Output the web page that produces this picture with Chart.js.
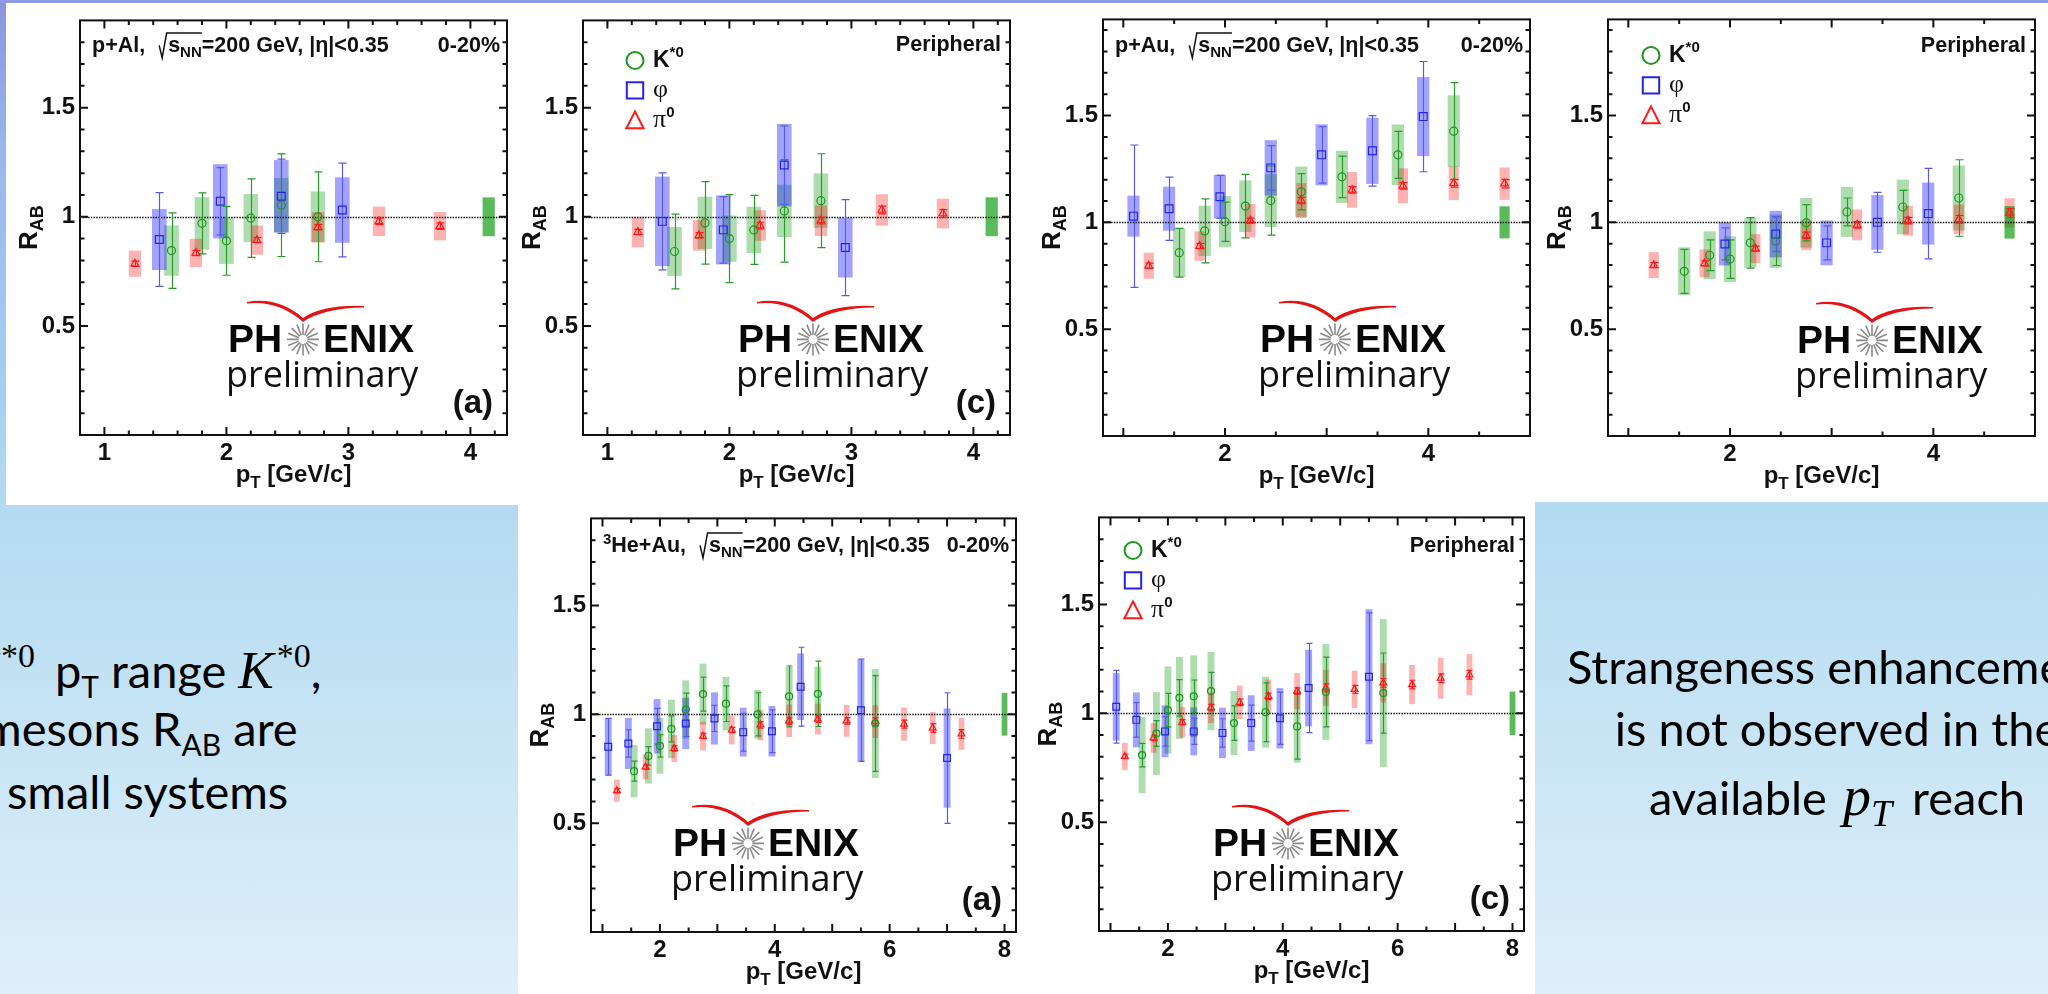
<!DOCTYPE html>
<html>
<head>
<meta charset="utf-8">
<script src="https://cdn.jsdelivr.net/npm/chart.js@4.4.0/dist/chart.umd.min.js"></script>
<style>
  html, body { margin: 0; padding: 0; }
  body {
    position: relative; width: 2048px; height: 994px; overflow: hidden;
    background: linear-gradient(180deg, #8a95dd 0px, #98b8ea 150px, #a6d0f1 400px, #b3dbf1 505px, #dfeff9 994px);
  }
  .band { position: absolute; left: 0; top: 0; width: 2048px; height: 3px; background: #8d9be0; }
  .sheet { position: absolute; background: #fff; }
  canvas { position: absolute; }
  .note { position: absolute; font: 47px Lato, sans-serif; line-height: 1; white-space: nowrap; color: #000; }
  .note.c { width: 1000px; text-align: center; }
  .mi { font-family: "Liberation Serif", serif; font-style: italic; font-size: 53px; }
  .ms { font-family: "Liberation Serif", serif; font-size: 34px; position: relative; top: -21px; margin-left: 3px; }
  .sb { font-size: 30px; position: relative; top: 10px; }
  .mp { font-family: "Liberation Serif", serif; font-style: italic; font-size: 56px; margin-left: 4px; }
  .mt { font-family: "Liberation Serif", serif; font-style: italic; font-size: 38px; position: relative; top: 11px; margin-right: 8px; }
</style>
</head>
<body>
<div class="band"></div>
<div class="sheet" style="left:6px;top:3px;width:512px;height:502px"></div>
<div class="sheet" style="left:518px;top:3px;width:1017px;height:991px"></div>
<div class="sheet" style="left:1532px;top:3px;width:516px;height:499px"></div>

<canvas id="pal-c"></canvas>
<canvas id="pal-p"></canvas>
<canvas id="pau-c"></canvas>
<canvas id="pau-p"></canvas>
<canvas id="he-c"></canvas>
<canvas id="he-p"></canvas>

<div class="note" style="right:2013px;top:644px"><span class="mi">K</span><span class="ms">*0</span></div>
<div class="note" style="left:55px;top:644px">p<span class="sb">T</span> range <span class="mi">K</span><span class="ms">*0</span>,</div>
<div class="note" style="left:-17px;top:705px">mesons R<span class="sb">AB</span> are</div>
<div class="note" style="left:7px;top:768px">small systems</div>

<div class="note c" style="left:1337px;top:643px">Strangeness enhancement</div>
<div class="note c" style="left:1337px;top:705px">is not observed in the</div>
<div class="note c" style="left:1337px;top:768px">available <span class="mp">p</span><span class="mt">T</span> reach</div>

<script>
// rows: [pT (GeV/c), R_AB, stat. error, syst. error]
const pAl_0020_K   = [[1.55,0.845,0.173,0.115],[1.80,0.970,0.140,0.120],[2.00,0.890,0.158,0.106],[2.20,0.994,0.180,0.110],[2.45,1.053,0.235,0.125],[2.75,1.000,0.206,0.116]];
const pAl_0020_phi = [[1.45,0.896,0.215,0.140],[1.95,1.071,0.154,0.170],[2.45,1.094,0.170,0.166],[2.95,1.031,0.215,0.150]];
const pAl_0020_pi  = [[1.25,0.785,0.012,0.060],[1.75,0.834,0.012,0.065],[2.25,0.893,0.012,0.067],[2.75,0.952,0.012,0.070],[3.25,0.979,0.015,0.068],[3.75,0.957,0.015,0.065]];

const pAl_periph_K   = [[1.55,0.841,0.171,0.112],[1.80,0.972,0.189,0.120],[2.00,0.900,0.202,0.106],[2.20,0.940,0.158,0.106],[2.45,1.027,0.235,0.120],[2.75,1.074,0.215,0.125]];
const pAl_periph_phi = [[1.45,0.979,0.222,0.205],[1.95,0.940,0.152,0.158],[2.45,1.237,0.180,0.189],[2.95,0.859,0.220,0.137]];
const pAl_periph_pi  = [[1.25,0.930,0.012,0.070],[1.75,0.915,0.012,0.070],[2.25,0.960,0.015,0.070],[2.75,0.982,0.015,0.070],[3.25,1.031,0.018,0.072],[3.75,1.015,0.018,0.068]];

const pAu_0020_K   = [[1.55,0.858,0.114,0.114],[1.80,0.960,0.150,0.118],[2.00,1.003,0.092,0.120],[2.20,1.076,0.149,0.121],[2.45,1.102,0.162,0.124],[2.75,1.143,0.085,0.118],[3.15,1.213,0.097,0.122],[3.70,1.316,0.110,0.142],[4.25,1.427,0.227,0.168]];
const pAu_0020_phi = [[1.10,1.029,0.333,0.096],[1.45,1.064,0.148,0.103],[1.95,1.120,0.100,0.103],[2.45,1.255,0.104,0.130],[2.95,1.316,0.132,0.143],[3.45,1.335,0.165,0.155],[3.95,1.495,0.258,0.185]];
const pAu_0020_pi  = [[1.25,0.797,0.012,0.061],[1.75,0.889,0.012,0.069],[2.25,1.008,0.012,0.078],[2.75,1.102,0.015,0.082],[3.25,1.152,0.015,0.084],[3.75,1.171,0.015,0.082],[4.25,1.183,0.018,0.079],[4.75,1.181,0.020,0.076]];

const pAu_periph_K   = [[1.55,0.771,0.103,0.112],[1.80,0.846,0.072,0.112],[2.00,0.828,0.090,0.107],[2.20,0.904,0.118,0.116],[2.45,0.912,0.114,0.125],[2.75,0.998,0.085,0.116],[3.15,1.049,0.065,0.117],[3.70,1.072,0.078,0.128],[4.25,1.114,0.179,0.152]];
const pAu_periph_phi = [[1.95,0.899,0.075,0.101],[2.45,0.945,0.082,0.109],[2.95,0.904,0.080,0.105],[3.45,1.000,0.140,0.128],[3.95,1.041,0.212,0.145]];
const pAu_periph_pi  = [[1.25,0.800,0.012,0.061],[1.75,0.808,0.012,0.065],[2.25,0.877,0.012,0.068],[2.75,0.939,0.015,0.069],[3.25,0.988,0.015,0.072],[3.75,1.008,0.015,0.070],[4.25,1.014,0.018,0.069],[4.75,1.044,0.020,0.069]];

const HeAu_0020_K   = [[1.55,0.739,0.046,0.120],[1.80,0.809,0.043,0.127],[2.00,0.855,0.052,0.128],[2.20,0.933,0.060,0.134],[2.45,1.022,0.075,0.134],[2.75,1.093,0.078,0.140],[3.15,1.049,0.082,0.123],[3.70,1.000,0.099,0.112],[4.25,1.082,0.140,0.136],[4.75,1.094,0.150,0.125],[5.75,0.958,0.220,0.250]];
const HeAu_0020_phi = [[1.10,0.851,0.130,0.132],[1.45,0.866,0.063,0.117],[1.95,0.945,0.082,0.125],[2.45,0.958,0.060,0.118],[2.95,0.981,0.060,0.120],[3.45,0.918,0.087,0.112],[3.95,0.922,0.098,0.116],[4.45,1.127,0.181,0.153],[5.50,1.019,0.235,0.235],[7.00,0.799,0.300,0.228]];
const HeAu_0020_pi  = [[1.25,0.649,0.010,0.051],[1.75,0.758,0.010,0.056],[2.25,0.843,0.012,0.062],[2.75,0.900,0.012,0.066],[3.25,0.928,0.012,0.066],[3.75,0.951,0.015,0.071],[4.25,0.970,0.015,0.075],[4.75,0.978,0.015,0.071],[5.25,0.970,0.015,0.073],[5.75,0.967,0.018,0.076],[6.25,0.955,0.018,0.076],[6.75,0.937,0.020,0.074],[7.25,0.910,0.020,0.073]];

const HeAu_periph_K   = [[1.55,0.808,0.054,0.175],[1.80,0.907,0.059,0.190],[2.00,1.015,0.077,0.200],[2.20,1.071,0.084,0.188],[2.45,1.078,0.075,0.188],[2.75,1.102,0.086,0.180],[3.15,0.955,0.079,0.147],[3.70,1.005,0.135,0.163],[4.25,0.940,0.150,0.167],[4.75,1.098,0.160,0.220],[5.75,1.093,0.184,0.340]];
const HeAu_periph_phi = [[1.10,1.030,0.167,0.155],[1.45,0.970,0.079,0.126],[1.95,0.917,0.068,0.119],[2.45,0.917,0.060,0.110],[2.95,0.910,0.065,0.116],[3.45,0.955,0.083,0.128],[3.95,0.977,0.120,0.139],[4.45,1.116,0.205,0.176],[5.50,1.168,0.293,0.310]];
const HeAu_periph_pi  = [[1.25,0.802,0.010,0.062],[1.75,0.887,0.012,0.068],[2.25,0.959,0.012,0.071],[2.75,1.026,0.015,0.071],[3.25,1.050,0.015,0.077],[3.75,1.078,0.015,0.077],[4.25,1.102,0.015,0.083],[4.75,1.117,0.018,0.083],[5.25,1.110,0.018,0.086],[5.75,1.140,0.020,0.090],[6.25,1.132,0.020,0.090],[6.75,1.161,0.020,0.094],[7.25,1.177,0.020,0.095]];

// global normalisation uncertainty: [pT position, half height]
const pAl_0020_norm   = [4.15, 0.089];
const pAl_periph_norm = [4.15, 0.089];
const pAu_0020_norm   = [4.75, 0.075];
const pAu_periph_norm = [4.75, 0.076];
const HeAu_0020_norm  = [8.0, 0.098];
const HeAu_periph_norm = [8.0, 0.100];

const yTickValues = [0.5, 1, 1.5];
const xTicks_pAl = [1, 2, 3, 4];
const xTicks_pAu = [2, 4];
const xTicks_HeAu = [2, 4, 6, 8];
const speciesNames = ['K*0', 'φ', 'π0'];

const SANS = '"Liberation Sans", Arial, Helvetica, sans-serif';
const SERIF = '"Liberation Serif", "DejaVu Serif", serif';
const INK = '#111';

// marker / box style for each species, same order as speciesNames
const species = [
  { style: 'circle',   mark: '#1c961c', bar: '#2a9a2a', box: 'rgba(0,150,0,0.32)', half: 0.06, r: [4, 3.5] },
  { style: 'rect',     mark: '#2424e6', bar: '#5a5ae8', box: 'rgba(0,0,255,0.36)', half: 0.06, r: [5.5, 4.8] },
  { style: 'triangle', mark: '#ff1a1a', bar: '#ee2020', box: 'rgba(255,0,0,0.30)', half: 0.05, r: [4.5, 4] }
];

// frame = [left, top, right, bottom] of the plot box in page pixels
const panels = [
  { id: 'pal-c', frame: [80, 11, 507, 435], x: [0.8, 4.3], yMax: 1.9, xTicks: xTicks_pAl, xMinor: 0.2,
    rows: [pAl_0020_K, pAl_0020_phi, pAl_0020_pi], norm: pAl_0020_norm,
    system: 'p+Al', labelY: 32, tag: '(a)', logo: [148, 332], big: true },
  { id: 'pal-p', frame: [583, 11, 1010, 435], x: [0.8, 4.3], yMax: 1.9, xTicks: xTicks_pAl, xMinor: 0.2,
    rows: [pAl_periph_K, pAl_periph_phi, pAl_periph_pi], norm: pAl_periph_norm,
    legend: [52, 40], labelY: 31, tag: '(c)', logo: [155, 332], big: true },
  { id: 'pau-c', frame: [1103, 10, 1530, 436], x: [0.8, 5.0], yMax: 1.95, xTicks: xTicks_pAu, xMinor: 0.5,
    rows: [pAu_0020_K, pAu_0020_phi, pAu_0020_pi], norm: pAu_0020_norm,
    system: 'p+Au', labelY: 33, logo: [157, 333], big: true },
  { id: 'pau-p', frame: [1608, 10, 2035, 436], x: [0.8, 5.0], yMax: 1.95, xTicks: xTicks_pAu, xMinor: 0.5,
    rows: [pAu_periph_K, pAu_periph_phi, pAu_periph_pi], norm: pAu_periph_norm,
    legend: [43, 36], labelY: 33, logo: [189, 334], big: true },
  { id: 'he-c', frame: [591, 509, 1016, 932], x: [0.8, 8.2], yMax: 1.9, xTicks: xTicks_HeAu, xMinor: 0.5,
    rows: [HeAu_0020_K, HeAu_0020_phi, HeAu_0020_pi], norm: HeAu_0020_norm,
    system: '3He+Au', labelY: 34, tag: '(a)', logo: [82, 338], big: false },
  { id: 'he-p', frame: [1099, 508, 1524, 931], x: [0.8, 8.2], yMax: 1.9, xTicks: xTicks_HeAu, xMinor: 0.5,
    rows: [HeAu_periph_K, HeAu_periph_phi, HeAu_periph_pi], norm: HeAu_periph_norm,
    legend: [34, 33], labelY: 35, tag: '(c)', logo: [114, 339], big: false }
];

const PAD_L = 80, PAD_T = 10, PAD_R = 14, PAD_B = 64;

function runText(ctx, x, y, parts) {
  // parts: [text, font, baseline shift]
  for (const p of parts) {
    ctx.font = p[1];
    ctx.fillText(p[0], x, y + (p[2] || 0));
    x += ctx.measureText(p[0]).width;
  }
  return x;
}

function textWidth(ctx, parts) {
  let w = 0;
  for (const p of parts) { ctx.font = p[1]; w += ctx.measureText(p[0]).width; }
  return w;
}

function drawLogo(ctx, x, y) {
  ctx.save();
  // red swoosh above the word
  ctx.fillStyle = '#e41414';
  ctx.beginPath();
  ctx.moveTo(x + 19, y - 50.5);
  ctx.quadraticCurveTo(x + 50, y - 56, x + 75, y - 34.5);
  ctx.quadraticCurveTo(x + 95, y - 48, x + 136, y - 46.5);
  ctx.lineTo(x + 136, y - 44.8);
  ctx.quadraticCurveTo(x + 97, y - 44.5, x + 75, y - 30.5);
  ctx.quadraticCurveTo(x + 50, y - 52.5, x + 19, y - 49);
  ctx.closePath();
  ctx.fill();

  ctx.fillStyle = '#080808';
  ctx.textAlign = 'left';
  ctx.textBaseline = 'alphabetic';
  ctx.font = 'bold 39px ' + SANS;
  ctx.fillText('PH', x, y);
  ctx.fillText('ENIX', x + 95, y);

  // starburst standing in for the O
  const cx = x + 75, cy = y - 13;
  ctx.strokeStyle = '#8a8a8a';
  ctx.lineWidth = 1.6;
  ctx.beginPath();
  for (let i = 0; i < 16; i++) {
    const t = i * Math.PI / 8;
    ctx.moveTo(cx + 4.5 * Math.cos(t), cy + 4.5 * Math.sin(t));
    ctx.lineTo(cx + 16 * Math.cos(t), cy + 16 * Math.sin(t));
  }
  ctx.stroke();

  ctx.fillStyle = '#111';
  ctx.font = '36px "Open Sans", sans-serif';
  ctx.fillText('preliminary', x - 2, y + 35);
  ctx.restore();
}

function drawMarker(ctx, style, cx, cy, s) {
  ctx.beginPath();
  if (style === 'circle') {
    ctx.arc(cx, cy, s, 0, Math.PI * 2);
  } else if (style === 'rect') {
    ctx.rect(cx - s, cy - s, 2 * s, 2 * s);
  } else {
    ctx.moveTo(cx, cy - s * 1.1);
    ctx.lineTo(cx + s * 1.05, cy + s * 0.95);
    ctx.lineTo(cx - s * 1.05, cy + s * 0.95);
    ctx.closePath();
  }
  ctx.stroke();
}

function decoFor(cfg) {
  const cap = cfg.big ? 4 : 3;
  return {
    id: 'deco',
    beforeDatasetsDraw(chart) {
      const { ctx, chartArea: a, scales: { x, y } } = chart;
      ctx.save();
      drawLogo(ctx, a.left + cfg.logo[0], a.top + cfg.logo[1]);

      ctx.beginPath();
      ctx.rect(a.left, a.top, a.right - a.left, a.bottom - a.top);
      ctx.clip();

      // systematic uncertainty boxes
      cfg.rows.forEach((rows, i) => {
        const sp = species[i];
        ctx.fillStyle = sp.box;
        rows.forEach(r => {
          const x0 = x.getPixelForValue(r[0] - sp.half), x1 = x.getPixelForValue(r[0] + sp.half);
          const y0 = y.getPixelForValue(r[1] + r[3]), y1 = y.getPixelForValue(r[1] - r[3]);
          ctx.fillRect(x0, y0, x1 - x0, y1 - y0);
        });
      });

      // global normalisation box
      ctx.fillStyle = 'rgba(0,150,0,0.65)';
      const nx0 = x.getPixelForValue(cfg.norm[0] - 0.05), nx1 = x.getPixelForValue(cfg.norm[0] + 0.05);
      const ny0 = y.getPixelForValue(1 + cfg.norm[1]), ny1 = y.getPixelForValue(1 - cfg.norm[1]);
      ctx.fillRect(nx0, ny0, nx1 - nx0, ny1 - ny0);

      // R_AB = 1 reference
      const y1 = Math.round(y.getPixelForValue(1)) + 0.5;
      ctx.strokeStyle = INK;
      ctx.lineWidth = 1.6;
      ctx.setLineDash([1.5, 1.2]);
      ctx.beginPath();
      ctx.moveTo(a.left, y1);
      ctx.lineTo(a.right, y1);
      ctx.stroke();
      ctx.setLineDash([]);

      // statistical error bars
      ctx.lineWidth = 1.2;
      cfg.rows.forEach((rows, i) => {
        ctx.strokeStyle = species[i].bar;
        ctx.beginPath();
        rows.forEach(r => {
          const px = Math.round(x.getPixelForValue(r[0])) + 0.5;
          const hi = y.getPixelForValue(r[1] + r[2]), lo = y.getPixelForValue(r[1] - r[2]);
          ctx.moveTo(px, hi); ctx.lineTo(px, lo);
          ctx.moveTo(px - cap, hi); ctx.lineTo(px + cap, hi);
          ctx.moveTo(px - cap, lo); ctx.lineTo(px + cap, lo);
        });
        ctx.stroke();
      });
      ctx.restore();
    },
    afterDraw(chart) {
      const { ctx, chartArea: a, scales: { x, y } } = chart;
      ctx.save();

      // frame with inward ticks on all four sides
      ctx.strokeStyle = INK;
      ctx.lineWidth = 2;
      ctx.strokeRect(a.left, a.top, a.right - a.left, a.bottom - a.top);
      ctx.beginPath();
      const ny = Math.round(cfg.yMax * 10);
      for (let k = 1; k < ny; k++) {
        const p = y.getPixelForValue(k / 10);
        const len = k % 5 === 0 ? 8 : 4.5;
        ctx.moveTo(a.left, p); ctx.lineTo(a.left + len, p);
        ctx.moveTo(a.right, p); ctx.lineTo(a.right - len, p);
      }
      const k0 = Math.ceil(cfg.x[0] / cfg.xMinor + 1e-6), k1 = Math.floor(cfg.x[1] / cfg.xMinor - 1e-6);
      for (let k = k0; k <= k1; k++) {
        const v = k * cfg.xMinor;
        const p = x.getPixelForValue(v);
        const len = Math.abs(v - Math.round(v)) < 1e-6 ? 8 : 4.5;
        ctx.moveTo(p, a.bottom); ctx.lineTo(p, a.bottom - len);
        ctx.moveTo(p, a.top); ctx.lineTo(p, a.top + len);
      }
      ctx.stroke();

      ctx.fillStyle = INK;
      ctx.textBaseline = 'alphabetic';
      ctx.textAlign = 'left';
      const BIG = 'bold 21.5px ' + SANS, SUB = 'bold 15px ' + SANS;
      const ty = a.top + cfg.labelY;

      if (cfg.system) {
        // collision system, energy and acceptance
        let cx = a.left + 12;
        if (cfg.system === '3He+Au') {
          cx = runText(ctx, cx, ty, [['3', SUB, -8], ['He+Au,', BIG]]);
        } else {
          cx = runText(ctx, cx, ty, [[cfg.system + ',', BIG]]);
        }
        cx += 14;
        const rx = cx;
        cx = runText(ctx, cx + 9, ty, [['s', BIG], ['NN', SUB, 5]]);
        ctx.lineWidth = 1.5;
        ctx.beginPath();
        ctx.moveTo(rx, ty - 7);
        ctx.lineTo(rx + 3, ty + 5.5);
        ctx.lineTo(rx + 7.5, ty - 19.5);
        ctx.lineTo(cx, ty - 19.5);
        ctx.stroke();
        runText(ctx, cx, ty, [['=200 GeV, |η|<0.35', BIG]]);
        ctx.textAlign = 'right';
        ctx.font = BIG;
        ctx.fillText('0-20%', a.right - 7, ty);
        ctx.textAlign = 'left';
      } else {
        ctx.textAlign = 'right';
        ctx.font = BIG;
        ctx.fillText('Peripheral', a.right - 9, ty);
        ctx.textAlign = 'left';
      }

      if (cfg.legend) {
        const lx = a.left + cfg.legend[0];
        species.forEach((sp, i) => {
          const ly = a.top + cfg.legend[1] + i * 30;
          ctx.strokeStyle = sp.mark;
          ctx.lineWidth = 2;
          drawMarker(ctx, sp.style, lx, ly, sp.style === 'circle' ? 8.5 : 8.2);
          ctx.fillStyle = INK;
          const name = speciesNames[i];
          const tx = lx + 18, tb = ly + 7;
          if (i === 0) runText(ctx, tx, tb, [[name.charAt(0), 'bold 23px ' + SANS], [name.slice(1), 'bold 15px ' + SANS, -10]]);
          else if (i === 1) runText(ctx, tx, tb, [[name, '26px ' + SERIF]]);
          else runText(ctx, tx, tb, [[name.charAt(0), '26px ' + SERIF], [name.slice(1), 'bold 15px ' + SANS, -10]]);
        });
      }

      if (cfg.tag) {
        ctx.fillStyle = INK;
        ctx.textAlign = 'right';
        ctx.font = 'bold 33px ' + SANS;
        ctx.fillText(cfg.tag, a.right - 14, a.bottom - 22);
        ctx.textAlign = 'left';
      }

      // axis titles
      const xt = [['p', 'bold 24px ' + SANS], ['T', 'bold 17px ' + SANS, 6], [' [GeV/c]', 'bold 24px ' + SANS]];
      const xw = textWidth(ctx, xt);
      runText(ctx, (a.left + a.right) / 2 - xw / 2, a.bottom + 47, xt);

      const yt = [['R', 'bold 26px ' + SANS], ['AB', 'bold 18px ' + SANS, 6]];
      const yw = textWidth(ctx, yt);
      ctx.translate(a.left - 43, (a.top + a.bottom) / 2);
      ctx.rotate(-Math.PI / 2);
      runText(ctx, -yw / 2, 0, yt);
      ctx.restore();
    }
  };
}

function buildPanel(cfg) {
  const el = document.getElementById(cfg.id);
  const [L, T, R, B] = cfg.frame;
  el.width = R - L + PAD_L + PAD_R;
  el.height = B - T + PAD_T + PAD_B;
  el.style.left = (L - PAD_L) + 'px';
  el.style.top = (T - PAD_T) + 'px';
  const size = cfg.big ? 0 : 1;

  new Chart(el, {
    type: 'scatter',
    data: {
      datasets: cfg.rows.map((rows, i) => ({
        label: speciesNames[i],
        data: rows.map(r => ({ x: r[0], y: r[1] })),
        pointStyle: species[i].style,
        pointRadius: species[i].r[size],
        pointBorderColor: species[i].mark,
        pointBackgroundColor: 'rgba(0,0,0,0)',
        pointBorderWidth: 1.2
      }))
    },
    options: {
      responsive: false,
      animation: false,
      events: [],
      layout: { padding: { left: 0, top: PAD_T, right: PAD_R, bottom: 0 } },
      plugins: { legend: { display: false }, tooltip: { enabled: false } },
      scales: {
        x: {
          type: 'linear', min: cfg.x[0], max: cfg.x[1],
          afterFit: s => { s.height = PAD_B; },
          afterBuildTicks: s => { s.ticks = cfg.xTicks.map(v => ({ value: v })); },
          grid: { display: false, drawTicks: false },
          border: { display: false },
          ticks: { color: INK, padding: 4, maxRotation: 0, autoSkip: false,
                   font: { family: SANS, size: 24, weight: 'bold' }, callback: v => String(v) }
        },
        y: {
          type: 'linear', min: 0, max: cfg.yMax,
          afterFit: s => { s.width = PAD_L; },
          afterBuildTicks: s => { s.ticks = yTickValues.map(v => ({ value: v })); },
          grid: { display: false, drawTicks: false },
          border: { display: false },
          ticks: { color: INK, padding: 5, autoSkip: false,
                   font: { family: SANS, size: 24, weight: 'bold' }, callback: v => String(v) }
        }
      }
    },
    plugins: [decoFor(cfg)]
  });
}

panels.forEach(buildPanel);
</script>
</body>
</html>
